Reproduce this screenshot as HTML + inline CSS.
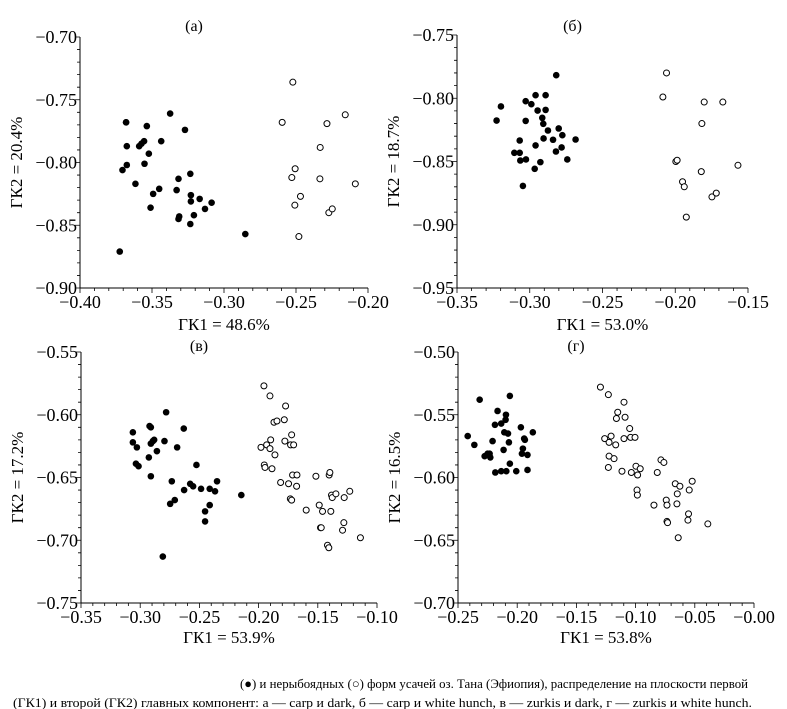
<!DOCTYPE html>
<html><head><meta charset="utf-8"><style>
body{margin:0;background:#fff;}
svg{display:block;font-family:"Liberation Serif","DejaVu Serif",serif;}
</style></head><body>
<svg id="fig" width="787" height="709" viewBox="0 0 787 709">
<text x="240" y="688" font-size="13" textLength="508" lengthAdjust="spacingAndGlyphs">(●) и нерыбоядных (○) форм усачей оз. Тана (Эфиопия), распределение на плоскости первой</text>
<text x="13" y="707" font-size="13" textLength="739" lengthAdjust="spacingAndGlyphs">(ГК1) и второй (ГК2) главных компонент: а — carp и dark, б — carp и white hunch, в — zurkis и dark, г — zurkis и white hunch.</text>
</svg>
<script>
const aFilledX=[-0.368,-0.368,-0.3675,-0.3675,-0.3705,-0.3615,-0.3724,-0.3536,-0.3589,-0.3573,-0.3555,-0.3522,-0.3552,-0.3492,-0.3510,-0.3450,-0.3436,-0.3374,-0.3271,-0.3329,-0.3316,-0.3311,-0.3316,-0.3234,-0.3230,-0.3230,-0.3234,-0.3169,-0.3209,-0.3132,-0.3086,-0.2852];
const aFilledY=[-0.768,-0.768,-0.787,-0.802,-0.806,-0.817,-0.871,-0.771,-0.787,-0.785,-0.783,-0.793,-0.801,-0.825,-0.836,-0.821,-0.783,-0.761,-0.774,-0.822,-0.813,-0.843,-0.845,-0.809,-0.826,-0.831,-0.849,-0.829,-0.842,-0.837,-0.832,-0.857];
const aOpenX=[-0.2522,-0.2596,-0.2158,-0.2285,-0.2332,-0.2506,-0.2529,-0.2334,-0.2088,-0.2469,-0.2508,-0.2272,-0.2248,-0.2480];
const aOpenY=[-0.736,-0.768,-0.762,-0.769,-0.788,-0.805,-0.812,-0.813,-0.817,-0.827,-0.834,-0.840,-0.837,-0.859];
const bFilledX=[-0.3228,-0.3198,-0.3028,-0.2989,-0.2960,-0.2891,-0.2818,-0.2946,-0.2891,-0.3028,-0.2914,-0.2907,-0.3069,-0.2960,-0.2875,-0.2905,-0.2840,-0.2801,-0.2776,-0.2781,-0.2685,-0.2742,-0.2820,-0.3106,-0.3069,-0.3065,-0.3026,-0.2927,-0.2966,-0.3047];
const bFilledY=[-0.8176,-0.8065,-0.8023,-0.8047,-0.7976,-0.7976,-0.7818,-0.8097,-0.8092,-0.8179,-0.8155,-0.8202,-0.8334,-0.8373,-0.8255,-0.8318,-0.8328,-0.8239,-0.8292,-0.8389,-0.8326,-0.8484,-0.8421,-0.8431,-0.8431,-0.8492,-0.8484,-0.8505,-0.8558,-0.8693];
const bOpenX=[-0.2060,-0.2085,-0.1801,-0.1673,-0.1817,-0.1996,-0.1987,-0.1569,-0.1821,-0.1950,-0.1938,-0.1748,-0.1718,-0.1924];
const bOpenY=[-0.780,-0.799,-0.803,-0.803,-0.820,-0.850,-0.849,-0.853,-0.858,-0.866,-0.870,-0.878,-0.875,-0.894];
const cFilledX=[-0.3062,-0.3062,-0.3028,-0.3036,-0.3014,-0.2921,-0.2910,-0.2893,-0.2882,-0.2910,-0.2859,-0.2927,-0.2910,-0.2795,-0.2781,-0.2688,-0.2632,-0.2733,-0.2525,-0.2629,-0.2578,-0.2553,-0.2486,-0.2413,-0.2368,-0.2351,-0.2747,-0.2708,-0.2452,-0.2413,-0.2452,-0.2146,-0.2809];
const cFilledY=[-0.614,-0.622,-0.626,-0.639,-0.641,-0.609,-0.610,-0.621,-0.620,-0.623,-0.629,-0.634,-0.649,-0.621,-0.598,-0.626,-0.611,-0.653,-0.640,-0.660,-0.655,-0.657,-0.659,-0.659,-0.661,-0.653,-0.671,-0.668,-0.677,-0.672,-0.685,-0.664,-0.713];
const cOpenX=[-0.1955,-0.1904,-0.1772,-0.1870,-0.1845,-0.1783,-0.1980,-0.1932,-0.1898,-0.1904,-0.1862,-0.1778,-0.1721,-0.1730,-0.1704,-0.1952,-0.1946,-0.1887,-0.1814,-0.1747,-0.1713,-0.1676,-0.1679,-0.1732,-0.1721,-0.1598,-0.1516,-0.1404,-0.1398,-0.1488,-0.1460,-0.1384,-0.1378,-0.1347,-0.1230,-0.1277,-0.1390,-0.1477,-0.1471,-0.1280,-0.1291,-0.1418,-0.1407,-0.1140];
const cOpenY=[-0.577,-0.585,-0.593,-0.606,-0.605,-0.604,-0.626,-0.624,-0.620,-0.627,-0.632,-0.621,-0.616,-0.624,-0.624,-0.640,-0.642,-0.643,-0.654,-0.655,-0.648,-0.648,-0.657,-0.667,-0.668,-0.676,-0.649,-0.648,-0.646,-0.672,-0.677,-0.664,-0.666,-0.663,-0.661,-0.666,-0.677,-0.690,-0.690,-0.686,-0.692,-0.704,-0.706,-0.698];
const dFilledX=[-0.2418,-0.2362,-0.2317,-0.2166,-0.2062,-0.2275,-0.2250,-0.2233,-0.2227,-0.2208,-0.2188,-0.2135,-0.2095,-0.2098,-0.2109,-0.2078,-0.2070,-0.2115,-0.2062,-0.2135,-0.2185,-0.2092,-0.2008,-0.1969,-0.1960,-0.1941,-0.1935,-0.1952,-0.1913,-0.1913,-0.1868];
const dFilledY=[-0.567,-0.574,-0.538,-0.547,-0.535,-0.583,-0.581,-0.581,-0.584,-0.571,-0.558,-0.557,-0.550,-0.554,-0.564,-0.565,-0.572,-0.578,-0.589,-0.595,-0.596,-0.595,-0.595,-0.560,-0.581,-0.569,-0.570,-0.577,-0.582,-0.594,-0.564];
const dOpenX=[-0.1297,-0.1230,-0.1098,-0.1151,-0.1162,-0.1089,-0.1050,-0.1042,-0.1005,-0.1261,-0.1224,-0.1207,-0.1168,-0.1098,-0.1224,-0.1182,-0.1230,-0.1115,-0.1036,-0.0997,-0.0983,-0.0961,-0.0817,-0.0988,-0.0985,-0.0845,-0.0741,-0.0735,-0.0735,-0.0730,-0.0786,-0.0761,-0.0665,-0.0626,-0.0648,-0.0651,-0.0547,-0.0522,-0.0553,-0.0558,-0.0390,-0.0640];
const dOpenY=[-0.528,-0.534,-0.540,-0.548,-0.553,-0.552,-0.561,-0.568,-0.568,-0.569,-0.572,-0.567,-0.574,-0.569,-0.583,-0.585,-0.592,-0.595,-0.596,-0.591,-0.598,-0.593,-0.596,-0.610,-0.614,-0.622,-0.618,-0.622,-0.635,-0.636,-0.586,-0.588,-0.605,-0.607,-0.613,-0.621,-0.610,-0.603,-0.629,-0.634,-0.637,-0.648];
const aXTicks=[-0.40,-0.35,-0.30,-0.25,-0.20];
const aYTicks=[-0.70,-0.75,-0.80,-0.85,-0.90];
const bXTicks=[-0.35,-0.30,-0.25,-0.20,-0.15];
const bYTicks=[-0.75,-0.80,-0.85,-0.90,-0.95];
const cXTicks=[-0.35,-0.30,-0.25,-0.20,-0.15,-0.10];
const cYTicks=[-0.55,-0.60,-0.65,-0.70,-0.75];
const dXTicks=[-0.25,-0.20,-0.15,-0.10,-0.05,-0.00];
const dYTicks=[-0.50,-0.55,-0.60,-0.65,-0.70];
const panels=[
 {id:'a',title:'(a)',xt:'ГК1 = 48.6%',yt:'ГК2 = 20.4%',L:80,R:368,T:37,B:288,xT:aXTicks,yT:aYTicks,fx:aFilledX,fy:aFilledY,ox:aOpenX,oy:aOpenY,titleY:31,xtY:330},
 {id:'b',title:'(б)',xt:'ГК1 = 53.0%',yt:'ГК2 = 18.7%',L:457,R:748,T:35,B:288,xT:bXTicks,yT:bYTicks,fx:bFilledX,fy:bFilledY,ox:bOpenX,oy:bOpenY,titleY:31,xtY:330},
 {id:'c',title:'(в)',xt:'ГК1 = 53.9%',yt:'ГК2 = 17.2%',L:81,R:377,T:352,B:603,xT:cXTicks,yT:cYTicks,fx:cFilledX,fy:cFilledY,ox:cOpenX,oy:cOpenY,titleY:351,xtY:643},
 {id:'d',title:'(г)',xt:'ГК1 = 53.8%',yt:'ГК2 = 16.5%',L:458,R:754,T:352,B:603,xT:dXTicks,yT:dYTicks,fx:dFilledX,fy:dFilledY,ox:dOpenX,oy:dOpenY,titleY:351,xtY:643}
];
const NS='http://www.w3.org/2000/svg';
const svg=document.getElementById('fig');
function mk(tag,attrs,parent){const e=document.createElementNS(NS,tag);for(const k in attrs)e.setAttribute(k,attrs[k]);parent.appendChild(e);return e;}
function fmt(v){const s=Math.abs(v).toFixed(2);return (v<=0?'\u2212':'')+s;}
panels.forEach(p=>{
 const g=mk('g',{},svg);
 
 
 const x0=Math.min(...p.xT),x1=Math.max(...p.xT),y0=Math.min(...p.yT),y1=Math.max(...p.yT);
 const sx=v=>p.L+(v-x0)/(x1-x0)*(p.R-p.L);
 const sy=v=>p.B-(v-y0)/(y1-y0)*(p.B-p.T);
 const ax=mk('path',{d:`M${p.L},${p.T}V${p.B}H${p.R}`,fill:'none',stroke:'#000','stroke-width':1},g);
 
 
 let d='';
 const ny=Math.round((y1-y0)/0.01);
 for(let i=0;i<=ny;i++){const y=sy(y0+i*0.01);const maj=i%5===0;d+=`M${p.L-(maj?5:3)},${y}H${p.L}`;}
 const nx=Math.round((x1-x0)/0.01);
 for(let i=0;i<=nx;i++){const x=sx(x0+i*0.01);const maj=i%5===0;d+=`M${x},${p.B}V${p.B+(maj?5:3)}`;}
 const tk=mk('path',{d:d,stroke:'#000','stroke-width':0.8},g);
 
 
 p.yT.forEach(v=>{const t=mk('text',{x:p.L-3,y:sy(v)+6,'text-anchor':'end','font-size':18},g);t.textContent=fmt(v);
  
  });
 p.xT.forEach(v=>{const t=mk('text',{x:sx(v),y:p.B+20,'text-anchor':'middle','font-size':18},g);t.textContent=fmt(v);
  
  });
 const tt=mk('text',{x:(p.L+p.R)/2-30,y:p.titleY,'text-anchor':'middle','font-size':16},g);tt.textContent=p.title;
 
 
 const xt=mk('text',{x:(p.L+p.R)/2,y:p.xtY,'text-anchor':'middle','font-size':17},g);xt.textContent=p.xt;
 
 
 const cy=(p.T+p.B)/2,cx=p.L-58;
 const yt=mk('text',{x:cx,y:cy,'text-anchor':'middle','font-size':17,transform:`rotate(-90 ${cx} ${cy})`},g);yt.textContent=p.yt;
 
 
 p.fx.forEach((v,i)=>{const c=mk('circle',{cx:sx(v),cy:sy(p.fy[i]),r:3.3,fill:'#000'},g);
  
  });
 p.ox.forEach((v,i)=>{const c=mk('circle',{cx:sx(v),cy:sy(p.oy[i]),r:3,fill:'#fff',stroke:'#000','stroke-width':1},g);
  
  });
});
</script>
</body></html>
